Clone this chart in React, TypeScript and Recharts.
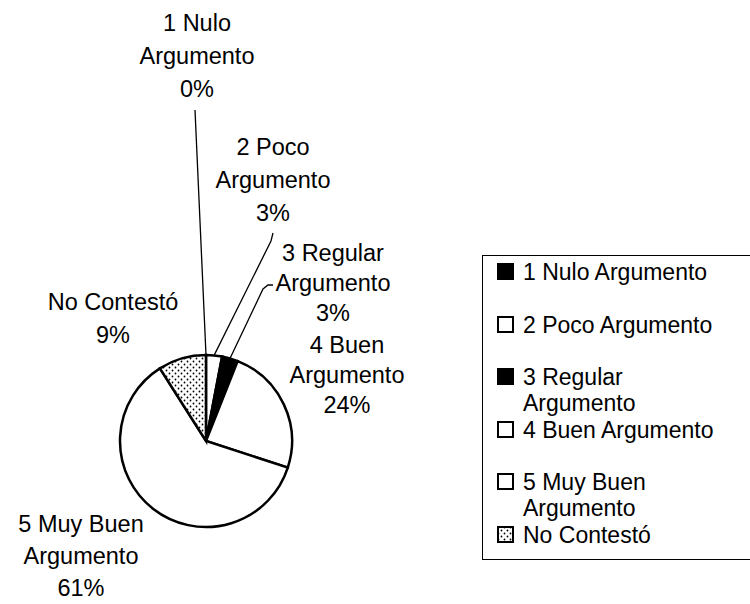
import React from 'react';
import { PieChart, Pie, Cell, Legend } from 'recharts';

const categories = [
  '1 Nulo Argumento',
  '2 Poco Argumento',
  '3 Regular Argumento',
  '4 Buen Argumento',
  '5 Muy Buen Argumento',
  'No Contestó',
];
const percentages = [0, 3, 3, 24, 61, 9];
const labelLines = [
  ['1 Nulo', 'Argumento'],
  ['2 Poco', 'Argumento'],
  ['3 Regular', 'Argumento'],
  ['4 Buen', 'Argumento'],
  ['5 Muy Buen', 'Argumento'],
  ['No Contestó'],
];
const fills = ['#000', '#fff', '#000', '#fff', '#fff', 'url(#dots)'];

// label block position (first line centre) relative to the pie centre
const LABEL_POS = [
  { dx: -9, dy: -418, gap: 33 },
  { dx: 67, dy: -294, gap: 33 },
  { dx: 127, dy: -188, gap: 30 },
  { dx: 141, dy: -96, gap: 30 },
  { dx: -125, dy: 83, gap: 32 },
  { dx: -93, dy: -139, gap: 33 },
];
// leader line bends, relative to the pie centre (starts at the slice edge)
const LEADERS: (number[][] | null)[] = [
  [[-11, -331]],
  [[65, -200], [67, -208]],
  [[57, -152], [62, -156], [67, -156]],
  null,
  null,
  null,
];

const FONT = '"Liberation Sans", Arial, sans-serif';
const data = categories.map((name, i) => ({ name, value: percentages[i] }));

const renderLabel = (props: any) => {
  const { cx, cy, midAngle, outerRadius, index } = props;
  const pos = LABEL_POS[index];
  const rad = Math.PI / 180;
  const ex = cx + outerRadius * Math.cos(-midAngle * rad);
  const ey = cy + outerRadius * Math.sin(-midAngle * rad);
  const lines = [...labelLines[index], `${percentages[index]}%`];
  const leader = LEADERS[index];
  const x = cx + pos.dx;
  return (
    <g key={`lbl-${index}`}>
      {leader && (
        <polyline
          points={[[ex, ey], ...leader.map(([lx, ly]) => [cx + lx, cy + ly])]
            .map((p) => p.join(','))
            .join(' ')}
          fill="none"
          stroke="#000"
          strokeWidth={1.3}
        />
      )}
      <text x={x} y={cy + pos.dy + 8} textAnchor="middle" fontSize={23.5} fill="#000" fontFamily={FONT}>
        {lines.map((l, i) => (
          <tspan key={i} x={x} dy={i === 0 ? 0 : pos.gap}>
            {l}
          </tspan>
        ))}
      </text>
    </g>
  );
};

const Swatch = ({ fill }: { fill: string }) => (
  <svg width={17} height={17} style={{ flex: 'none', marginTop: 4 }}>
    <rect x={1} y={1} width={15} height={15} fill={fill} stroke="#000" strokeWidth={2} />
  </svg>
);

const LegendBox = () => (
  <div style={{ fontFamily: FONT, fontSize: 23, lineHeight: '26px', color: '#000', paddingTop: 3 }}>
    {categories.map((c, i) => (
      <div key={c} style={{ display: 'flex', alignItems: 'flex-start', height: 52.5, paddingLeft: 14 }}>
        <Swatch fill={fills[i]} />
        <div style={{ width: 205, marginLeft: 9 }}>{c}</div>
      </div>
    ))}
  </div>
);

export default function App() {
  return (
    <div style={{ position: 'absolute', left: 0, top: 0, width: 750, height: 604, background: '#fff', overflow: 'hidden' }}>
      <svg width={0} height={0} style={{ position: 'absolute' }}>
        <defs>
          <pattern id="dots" width={6} height={6} patternUnits="userSpaceOnUse">
            <rect width={6} height={6} fill="#fff" />
            <circle cx={1.5} cy={1.5} r={0.9} fill="#000" />
            <circle cx={4.5} cy={4.5} r={0.9} fill="#000" />
          </pattern>
        </defs>
      </svg>
      <PieChart width={750} height={604}>
        <Pie
          data={data}
          dataKey="value"
          nameKey="name"
          cx={201}
          cy={436}
          outerRadius={86}
          startAngle={90}
          endAngle={-270}
          stroke="#000"
          strokeWidth={2.5}
          label={renderLabel}
          labelLine={false}
          isAnimationActive={false}
        >
          {data.map((d, i) => (
            <Cell key={d.name} fill={fills[i]} />
          ))}
        </Pie>
        <Legend
          content={<LegendBox />}
          wrapperStyle={{
            left: 482,
            top: 255,
            width: 290,
            height: 305,
            border: '1.5px solid #000',
            boxSizing: 'border-box',
          }}
        />
      </PieChart>
    </div>
  );
}
